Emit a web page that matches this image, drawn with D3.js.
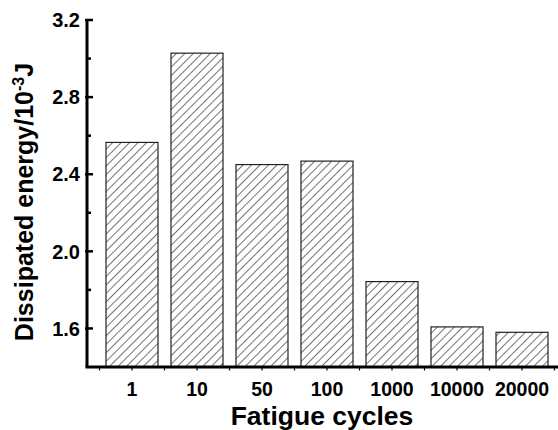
<!DOCTYPE html>
<html>
<head>
<meta charset="utf-8">
<script src="https://cdn.jsdelivr.net/npm/d3@7"></script>
<style>
  body { margin: 0; background: #fff; }
  text { font-family: Arial, "Liberation Sans", sans-serif; font-weight: bold; fill: #000; }
</style>
</head>
<body>
<div class="canva"></div>
<script>
const cycles = ["1", "10", "50", "100", "1000", "10000", "20000"];
const energy = [2.565, 3.028, 2.45, 2.468, 1.843, 1.608, 1.58];
const majorTicks = [1.6, 2.0, 2.4, 2.8, 3.2];
const minorTicks = [1.8, 2.2, 2.6, 3.0];

const svg = d3.select(".canva").append("svg")
    .attr("width", 558)
    .attr("height", 430);

// hatch fill
const defs = svg.append("defs");
defs.append("pattern")
    .attr("id", "hatch")
    .attr("patternUnits", "userSpaceOnUse")
    .attr("width", 6)
    .attr("height", 6)
    .attr("patternTransform", "rotate(45)")
    .append("line")
    .attr("x1", 0).attr("y1", 0)
    .attr("x2", 0).attr("y2", 6)
    .attr("stroke", "#000")
    .attr("stroke-width", 1.1);

const x = d3.scaleBand()
    .domain(cycles)
    .range([99.5, 554.5])
    .paddingInner(0.2)
    .paddingOuter(0.1);

const y = d3.scaleLinear()
    .domain([1.4, 3.2])
    .range([367, 20]);

const axisLeft = 87;

// bars
svg.selectAll(".bar")
    .data(cycles)
    .enter()
    .append("rect")
    .attr("class", "bar")
    .attr("x", d => x(d))
    .attr("y", (d, i) => y(energy[i]))
    .attr("width", x.bandwidth())
    .attr("height", (d, i) => y(1.4) - y(energy[i]))
    .attr("fill", "url(#hatch)")
    .attr("stroke", "#222")
    .attr("stroke-width", 1.2);

// y axis
const yAxisGroup = svg.append("g")
    .attr("transform", `translate(${axisLeft}, 0)`);

yAxisGroup.append("line")
    .attr("x1", 0).attr("x2", 0)
    .attr("y1", y(3.2) - 1).attr("y2", y(1.4))
    .attr("stroke", "#000")
    .attr("stroke-width", 3);

yAxisGroup.selectAll(".major")
    .data(majorTicks)
    .enter()
    .append("line")
    .attr("x1", -2).attr("x2", 6)
    .attr("y1", d => y(d)).attr("y2", d => y(d))
    .attr("stroke", "#000")
    .attr("stroke-width", 2.5);

yAxisGroup.selectAll(".minor")
    .data(minorTicks)
    .enter()
    .append("line")
    .attr("x1", 0).attr("x2", 4)
    .attr("y1", d => y(d)).attr("y2", d => y(d))
    .attr("stroke", "#000")
    .attr("stroke-width", 2.5);

yAxisGroup.selectAll(".ylabel")
    .data(majorTicks)
    .enter()
    .append("text")
    .attr("x", -7)
    .attr("y", d => y(d))
    .attr("dy", "0.36em")
    .attr("text-anchor", "end")
    .style("font-size", "20px")
    .text(d => d.toFixed(1));

// x axis
const xAxisGroup = svg.append("g")
    .attr("transform", `translate(0, ${y(1.4)})`);

xAxisGroup.append("line")
    .attr("x1", axisLeft - 1.5).attr("x2", 558)
    .attr("y1", 0).attr("y2", 0)
    .attr("stroke", "#000")
    .attr("stroke-width", 3);

const xTicks = [];
cycles.forEach(c => {
    xTicks.push(x(c) + x.bandwidth() / 2);
    xTicks.push(x(c) + x.bandwidth() / 2 + x.step() / 2);
});
xTicks.unshift(x(cycles[0]) + x.bandwidth() / 2 - x.step() / 2);

xAxisGroup.selectAll(".xtick")
    .data(xTicks)
    .enter()
    .append("line")
    .attr("x1", d => d).attr("x2", d => d)
    .attr("y1", 0).attr("y2", 3.5)
    .attr("stroke", "#000")
    .attr("stroke-width", 1.2);

xAxisGroup.selectAll(".xlabel")
    .data(cycles)
    .enter()
    .append("text")
    .attr("x", d => x(d) + x.bandwidth() / 2)
    .attr("y", 29)
    .attr("text-anchor", "middle")
    .style("font-size", "19.5px")
    .text(d => d);

// axis titles
svg.append("text")
    .attr("x", 322)
    .attr("y", 425)
    .attr("text-anchor", "middle")
    .style("font-size", "26.5px")
    .text("Fatigue cycles");

const yTitle = svg.append("text")
    .attr("transform", "translate(33, 202) rotate(-90)")
    .attr("text-anchor", "middle")
    .style("font-size", "25px");
yTitle.append("tspan").text("Dissipated energy/10");
yTitle.append("tspan").attr("dy", -9).style("font-size", "16px").text("-3");
yTitle.append("tspan").attr("dy", 9).text("J");
</script>
</body>
</html>
